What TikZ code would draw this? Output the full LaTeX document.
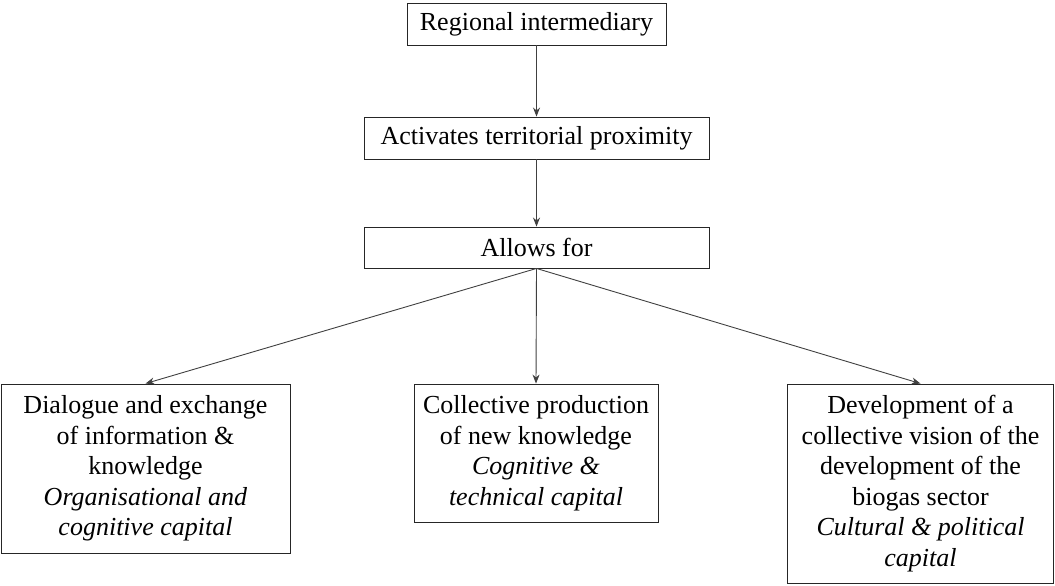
\documentclass[tikz,border=0pt]{standalone}
\usepackage{fontspec}
\setmainfont{Liberation Serif}
\usetikzlibrary{arrows.meta}
\begin{document}
\begin{tikzpicture}[x=1pt,y=-1pt,
  box/.style={draw=black!85, line width=0.9pt, inner sep=0pt, align=center,
    font=\fontsize{26}{30.5}\selectfont},
  conn/.style={draw=black!75, line width=0.9pt, -{Stealth[length=9pt,width=7pt]}}]
\useasboundingbox (0,0) rectangle (1055,586);
\node[box, minimum width=259pt, minimum height=42pt] (top) at (536.5,24) {Regional intermediary};
\node[box, minimum width=345pt, minimum height=42pt] (act) at (536.5,138) {Activates territorial proximity};
\node[box, minimum width=345pt, minimum height=41pt] (allow) at (536.5,247.5) {Allows for};
\node[box, minimum width=289pt, minimum height=169pt] (left) at (145.5,468.5)
  {Dialogue and exchange\\of information \&\\knowledge\\\textit{Organisational and}\\\textit{cognitive capital}};
\node[box, minimum width=244pt, minimum height=138pt] (mid) at (536,453)
  {Collective production\\of new knowledge\\\textit{Cognitive \&}\\\textit{technical capital}};
\node[box, minimum width=266pt, minimum height=199pt] (right) at (920.5,483.5)
  {Development of a\\collective vision of the\\development of the\\biogas sector\\\textit{Cultural \& political}\\\textit{capital}};
\draw[conn] (top.south) -- (act.north);
\draw[conn] (act.south) -- (allow.north);
\draw[conn] (allow.south) -- (left.north);
\draw[conn] (allow.south) -- (mid.north);
\draw[conn] (allow.south) -- (right.north);
\end{tikzpicture}
\end{document}
